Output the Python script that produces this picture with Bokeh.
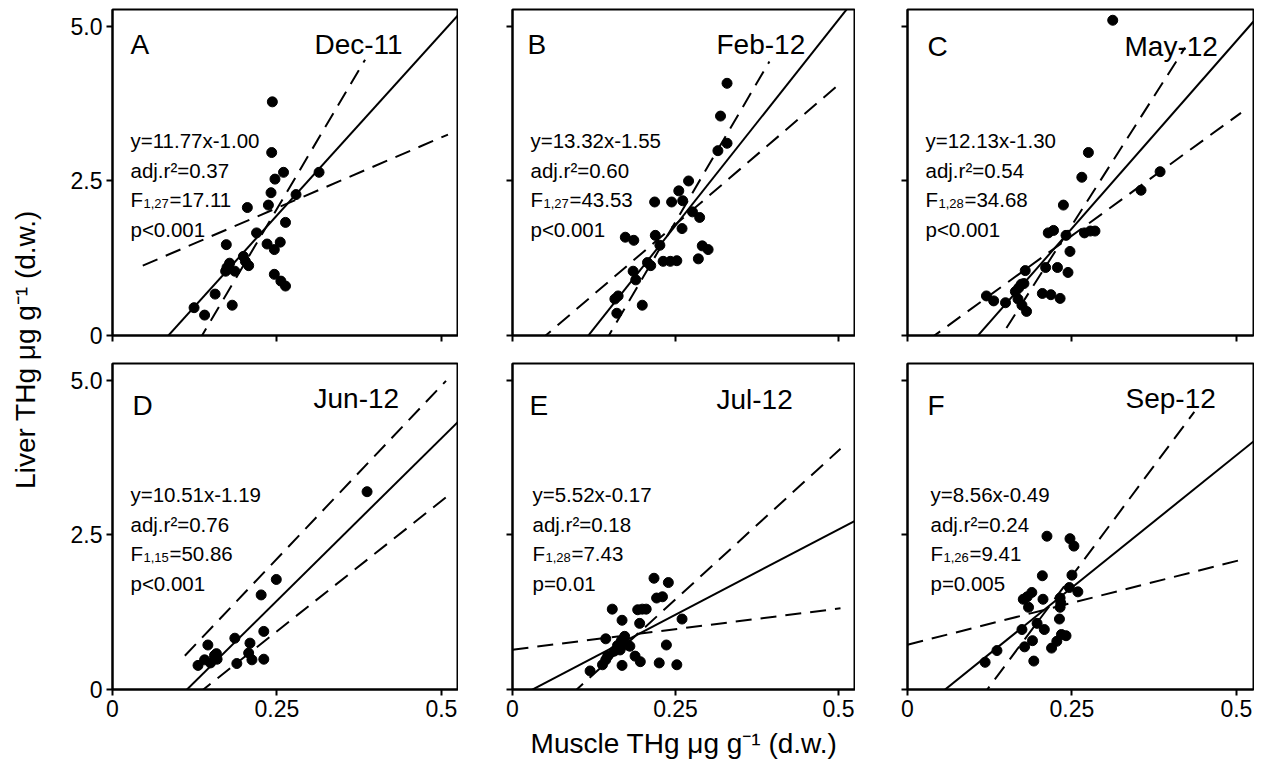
import numpy as np
from bokeh.plotting import figure
from bokeh.layouts import row, column
from bokeh.models import Label, FixedTicker, Range1d
from bokeh.embed import file_html
from bokeh.resources import INLINE

FONT = "Liberation Sans"

# ---------------- data ----------------
panel_letters = ["A", "B", "C", "D", "E", "F"]
months = ["Dec-11", "Feb-12", "May-12", "Jun-12", "Jul-12", "Sep-12"]

muscle_A = [0.243, 0.242, 0.260, 0.247, 0.314, 0.241, 0.279, 0.205, 0.237, 0.263, 0.219, 0.173, 0.235, 0.246, 0.255,
            0.199, 0.178, 0.207, 0.172, 0.186, 0.246, 0.256, 0.263, 0.156, 0.182, 0.124, 0.140, 0.202, 0.174]
liver_A = [3.78, 2.96, 2.64, 2.53, 2.64, 2.31, 2.28, 2.07, 2.11, 1.83, 1.66, 1.47, 1.48, 1.39, 1.51,
           1.28, 1.17, 1.13, 1.04, 1.04, 0.99, 0.88, 0.80, 0.67, 0.49, 0.45, 0.33, 1.20, 1.10]

muscle_B = [0.329, 0.319, 0.329, 0.315, 0.270, 0.255, 0.218, 0.244, 0.261, 0.276, 0.287, 0.260, 0.219, 0.173, 0.186,
            0.226, 0.291, 0.300, 0.285, 0.207, 0.212, 0.231, 0.242, 0.252, 0.185, 0.189, 0.162, 0.157, 0.199, 0.160]
liver_B = [4.08, 3.55, 3.11, 2.99, 2.50, 2.34, 2.16, 2.16, 2.18, 2.00, 1.91, 1.73, 1.62, 1.59, 1.54,
           1.46, 1.45, 1.39, 1.24, 1.18, 1.13, 1.20, 1.20, 1.21, 1.04, 0.90, 0.64, 0.59, 0.49, 0.36]

muscle_C = [0.312, 0.275, 0.265, 0.384, 0.355, 0.237, 0.214, 0.222, 0.241, 0.269, 0.278, 0.285, 0.247, 0.179, 0.210,
            0.228, 0.244, 0.177, 0.169, 0.168, 0.174, 0.181, 0.205, 0.218, 0.232, 0.120, 0.131, 0.149, 0.164, 0.173]
liver_C = [5.10, 2.96, 2.56, 2.65, 2.35, 2.11, 1.66, 1.70, 1.62, 1.66, 1.69, 1.69, 1.36, 1.05, 1.10,
           1.10, 1.02, 0.84, 0.77, 0.59, 0.49, 0.39, 0.68, 0.66, 0.60, 0.64, 0.56, 0.53, 0.71, 0.83]

muscle_D = [0.387, 0.249, 0.226, 0.230, 0.186, 0.209, 0.145, 0.158, 0.207, 0.212, 0.230, 0.189, 0.140, 0.130,
            0.149, 0.159, 0.155]
liver_D = [3.20, 1.78, 1.53, 0.94, 0.83, 0.75, 0.72, 0.58, 0.59, 0.48, 0.49, 0.42, 0.48, 0.39,
           0.43, 0.49, 0.55]

muscle_E = [0.217, 0.239, 0.221, 0.230, 0.153, 0.192, 0.199, 0.205, 0.260, 0.168, 0.195, 0.143, 0.167, 0.176, 0.165,
            0.156, 0.236, 0.143, 0.138, 0.119, 0.168, 0.188, 0.196, 0.225, 0.252, 0.161, 0.146, 0.172, 0.180]
liver_E = [1.80, 1.73, 1.48, 1.50, 1.30, 1.29, 1.30, 1.30, 1.14, 1.12, 1.07, 0.82, 0.79, 0.72, 0.64,
           0.62, 0.72, 0.48, 0.40, 0.30, 0.39, 0.54, 0.45, 0.43, 0.40, 0.71, 0.54, 0.86, 0.70]

muscle_F = [0.212, 0.247, 0.253, 0.205, 0.250, 0.246, 0.259, 0.189, 0.176, 0.184, 0.206, 0.232, 0.232, 0.231,
            0.197, 0.208, 0.174, 0.190, 0.178, 0.234, 0.241, 0.227, 0.219, 0.136, 0.118, 0.192, 0.182, 0.233]
liver_F = [2.48, 2.44, 2.32, 1.84, 1.85, 1.65, 1.58, 1.57, 1.46, 1.33, 1.46, 1.48, 1.33, 1.14,
           1.07, 0.97, 0.97, 0.79, 0.69, 0.89, 0.87, 0.78, 0.67, 0.63, 0.44, 0.46, 1.50, 1.40]

muscle = [muscle_A, muscle_B, muscle_C, muscle_D, muscle_E, muscle_F]
liver = [liver_A, liver_B, liver_C, liver_D, liver_E, liver_F]

# fitted regression
slopes = [11.77, 13.32, 12.13, 10.51, 5.52, 8.56]
intercepts = [-1.00, -1.55, -1.30, -1.19, -0.17, -0.49]
adj_r2 = ["0.37", "0.60", "0.54", "0.76", "0.18", "0.24"]
f_df = ["1,27", "1,27", "1,28", "1,15", "1,28", "1,26"]
f_val = ["17.11", "43.53", "34.68", "50.86", "7.43", "9.41"]
p_txt = ["p<0.001", "p<0.001", "p<0.001", "p<0.001", "p=0.01", "p=0.005"]

# dashed bounding lines: slope, intercept, x start, x end
dash1_slope = [4.57, 9.03, 7.73, 11.2, 1.33, 2.71]
dash1_icpt = [0.92, -0.46, -0.317, -0.685, 0.644, 0.724]
dash1_x0 = [0.046, 0.040, 0.030, 0.110, 0.0, 0.0]
dash1_x1 = [0.510, 0.503, 0.507, 0.507, 0.503, 0.509]
dash2_slope = [18.0, 18.0, 16.7, 8.43, 9.63, 14.27]
dash2_icpt = [-2.45, -2.66, -2.39, -1.165, -0.949, -1.73]
dash2_x0 = [0.13, 0.14, 0.13, 0.13, 0.09, 0.11]
dash2_x1 = [0.384, 0.394, 0.422, 0.507, 0.503, 0.436]

x_ticks = [0, 0.25, 0.5]
x_tick_labels = ["0", "0.25", "0.5"]
y_ticks = [0, 2.5, 5.0]
y_tick_labels = ["0", "2.5", "5.0"]

XMAX = 0.526
YMAX = 5.274

# ---------------- layout / style ----------------
FW = [346, 343, 346]
FH = 326
BL = [64, 54, 52]
BR = [0, 0, 1]
BT = [9, 14]
BB = [14, 72]
TITLE_W = 48
TOTAL_H = BT[0] + FH + BB[0] + BT[1] + FH + BB[1]

letter_dx = [18, 15, 20, 20, 17, 20]
letter_dy = [35, 35, 37, 42, 42, 42]
month_dx = [202, 204, 217, 201, 204, 218]
month_dy = [35, 35, 37, 35, 36, 35]
stat_dx = [18, 18, 18, 18, 20, 23]
stat_dy0 = 131
stat_step = 29.6
STAT_FS = 20.5
SUB_FS = 13
BIG_FS = 28
TICK_FS = 23
TITLE_FS = 28


def lab(p, text, dx, dy, size, **kw):
    p.add_layout(Label(x=0, y=YMAX, x_offset=dx, y_offset=-dy, text=text,
                       text_font=FONT, text_font_size=f"{size}px", text_color="black",
                       text_baseline="alphabetic", text_align="left", **kw))


def make_panel(i):
    r, c = divmod(i, 3)
    p = figure(frame_width=FW[c], frame_height=FH,
               x_range=Range1d(0, XMAX), y_range=Range1d(0, YMAX),
               output_backend="svg", toolbar_location=None,
               min_border_left=BL[c], min_border_right=BR[c],
               min_border_top=BT[r], min_border_bottom=BB[r],
               background_fill_color="white", border_fill_color="white")
    p.grid.visible = False
    p.outline_line_color = "black"
    p.outline_line_width = 2
    for ax, ticks, labels in ((p.xaxis, x_ticks, x_tick_labels), (p.yaxis, y_ticks, y_tick_labels)):
        ax.ticker = FixedTicker(ticks=ticks)
        ax.major_label_overrides = {t: s for t, s in zip(ticks, labels)}
        ax.axis_line_color = "black"
        ax.axis_line_width = 2
        ax.major_tick_line_color = "black"
        ax.major_tick_line_width = 2
        ax.major_tick_out = 6
        ax.major_tick_in = 0
        ax.minor_tick_line_color = None
        ax.major_label_text_font = FONT
        ax.major_label_text_font_size = f"{TICK_FS}px"
        ax.major_label_text_color = "black"
        ax.major_label_standoff = 4
    # inner panels: ticks only, tick labels switched off
    if r == 0:
        p.xaxis.major_label_text_font_size = "0px"
        p.xaxis.major_label_text_color = None
        p.xaxis.major_label_standoff = 0
    if c != 0:
        p.yaxis.major_label_text_font_size = "0px"
        p.yaxis.major_label_text_color = None
        p.yaxis.major_label_standoff = 0
    if i == 4:
        p.xaxis.axis_label = "Muscle THg \u03bcg g\u207b\u00b9 (d.w.)"
        p.xaxis.axis_label_text_font = FONT
        p.xaxis.axis_label_text_font_size = f"{TITLE_FS}px"
        p.xaxis.axis_label_text_font_style = "normal"
        p.xaxis.axis_label_text_color = "black"
        p.xaxis.axis_label_standoff = 8

    # regression line
    xs = np.array([0.0, XMAX])
    p.line(xs, slopes[i] * xs + intercepts[i], line_color="black", line_width=2)
    # dashed lines
    xd1 = np.array([dash1_x0[i], dash1_x1[i]])
    p.line(xd1, dash1_slope[i] * xd1 + dash1_icpt[i], line_color="black", line_width=2, line_dash="16 9")
    xd2 = np.array([dash2_x0[i], dash2_x1[i]])
    p.line(xd2, dash2_slope[i] * xd2 + dash2_icpt[i], line_color="black", line_width=2, line_dash="16 9")
    # points
    p.scatter(muscle[i], liver[i], size=10, fill_color="black", line_color="black")

    # texts
    lab(p, panel_letters[i], letter_dx[i], letter_dy[i], BIG_FS)
    lab(p, months[i], month_dx[i], month_dy[i], BIG_FS)
    sx = stat_dx[i]
    b = intercepts[i]
    eq = f"y={slopes[i]:.2f}x{'-' if b < 0 else '+'}{abs(b):.2f}"
    lab(p, eq, sx, stat_dy0, STAT_FS)
    lab(p, "adj.r\u00b2=" + adj_r2[i], sx, stat_dy0 + stat_step, STAT_FS)
    lab(p, "F", sx, stat_dy0 + 2 * stat_step, STAT_FS)
    lab(p, f_df[i], sx + 13, stat_dy0 + 2 * stat_step + 4, SUB_FS)
    lab(p, "=" + f_val[i], sx + 39, stat_dy0 + 2 * stat_step, STAT_FS)
    lab(p, p_txt[i], sx, stat_dy0 + 3 * stat_step, STAT_FS)
    return p


panels = [make_panel(i) for i in range(6)]

# y-axis title strip
tfig = figure(width=TITLE_W, height=TOTAL_H, x_range=Range1d(0, TITLE_W), y_range=Range1d(0, TOTAL_H),
              output_backend="svg", toolbar_location=None, x_axis_type=None, y_axis_type=None,
              min_border=0, min_border_left=0, min_border_right=0, min_border_top=0, min_border_bottom=0,
              outline_line_color=None, background_fill_color="white", border_fill_color="white")
tfig.grid.visible = False
tfig.add_layout(Label(x=25, y=TOTAL_H - 349, text="Liver THg \u03bcg g\u207b\u00b9 (d.w.)",
                      angle=np.pi / 2, text_align="center", text_baseline="middle",
                      text_font=FONT, text_font_size=f"{TITLE_FS}px", text_color="black"))

layout = row(tfig, column(row(*panels[:3]), row(*panels[3:])))

open("out.html", "w").write(file_html(layout, INLINE))
